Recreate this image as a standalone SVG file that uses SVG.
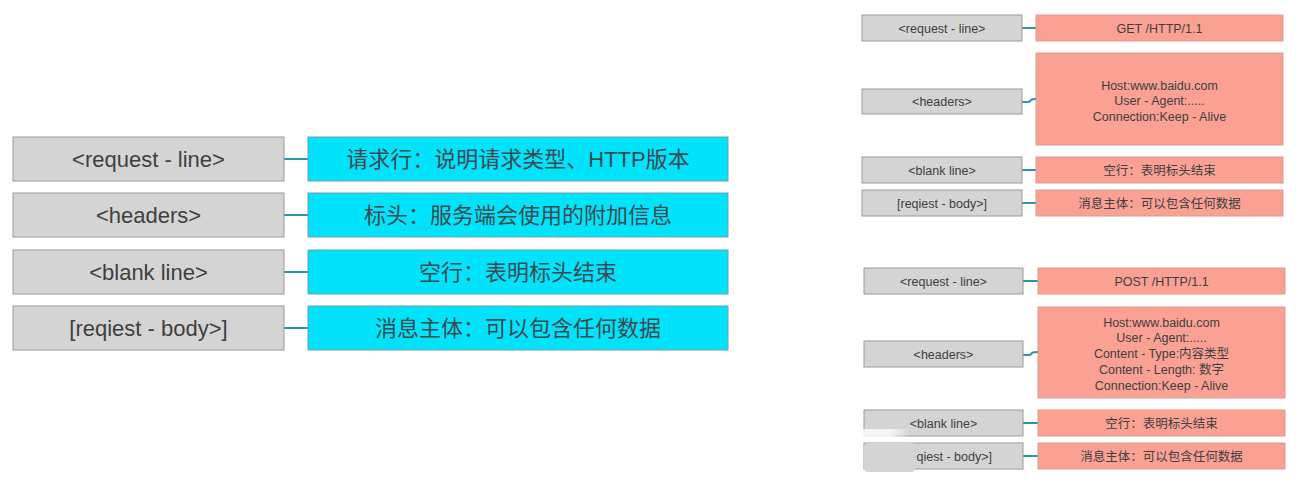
<svg xmlns="http://www.w3.org/2000/svg" width="1303" height="488" viewBox="0 0 1303 488">
<defs>
<style>
.g{fill:#d4d4d4;stroke:#9a9a9a;stroke-width:1}
.c{fill:#00e3fa;stroke:#7a9aa6;stroke-width:1}
.s{fill:#fba193;stroke:#d99a90;stroke-width:1}
.tl{font-family:"Liberation Sans","Noto Sans CJK SC",sans-serif;font-size:22px;fill:#404040;text-anchor:middle}
.tc{font-family:"Liberation Sans","Noto Sans CJK SC",sans-serif;font-size:22px;fill:#3a4a50;text-anchor:middle}
.ts{font-family:"Liberation Sans","Noto Sans CJK SC",sans-serif;font-size:12.5px;fill:#404040;text-anchor:middle}
.ln{fill:none;stroke:#2a93b0;stroke-width:2}
</style>
<linearGradient id="fade" x1="0" y1="0" x2="1" y2="0">
<stop offset="0" stop-color="#fff" stop-opacity="0"/>
<stop offset="0.3" stop-color="#fff" stop-opacity="0.8"/>
<stop offset="0.85" stop-color="#fff" stop-opacity="0.8"/>
<stop offset="1" stop-color="#fff" stop-opacity="0"/>
</linearGradient>
</defs>
<rect width="1303" height="488" fill="#fff"/>
<g id="connectors">
<line class="ln" x1="284" y1="159" x2="308" y2="159"/>
<line class="ln" x1="284" y1="215" x2="308" y2="215"/>
<line class="ln" x1="284" y1="272" x2="308" y2="272"/>
<line class="ln" x1="284" y1="328" x2="308" y2="328"/>
<line class="ln" x1="1022" y1="28" x2="1036" y2="28"/>
<path class="ln" d="M1022 102 H1028 Q1030 102 1031 100 Q1032 99 1036 99"/>
<line class="ln" x1="1022" y1="170" x2="1036" y2="170"/>
<line class="ln" x1="1022" y1="203" x2="1036" y2="203"/>
<line class="ln" x1="1023" y1="281" x2="1038" y2="281"/>
<path class="ln" d="M1023 355 H1029 Q1031 355 1032 353 Q1033 352 1038 352"/>
<line class="ln" x1="1023" y1="423" x2="1038" y2="423"/>
<line class="ln" x1="1023" y1="456" x2="1038" y2="456"/>
</g>
<g id="l-request-line"><rect class="g" x="13" y="137" width="271" height="44"/><text class="tl" x="148.5" y="167">&lt;request - line&gt;</text></g>
<g id="l-headers"><rect class="g" x="13" y="193" width="271" height="44"/><text class="tl" x="148.5" y="223">&lt;headers&gt;</text></g>
<g id="l-blank-line"><rect class="g" x="13" y="250" width="271" height="44"/><text class="tl" x="148.5" y="280">&lt;blank line&gt;</text></g>
<g id="l-body"><rect class="g" x="13" y="306" width="271" height="44"/><text class="tl" x="148.5" y="336">[reqiest - body&gt;]</text></g>
<g id="c-request-line"><rect class="c" x="308" y="137" width="420" height="44"/><text class="tc" x="518" y="167">请求行：说明请求类型、HTTP版本</text></g>
<g id="c-headers"><rect class="c" x="308" y="193" width="420" height="44"/><text class="tc" x="518" y="223">标头：服务端会使用的附加信息</text></g>
<g id="c-blank-line"><rect class="c" x="308" y="250" width="420" height="44"/><text class="tc" x="518" y="280">空行：表明标头结束</text></g>
<g id="c-body"><rect class="c" x="308" y="306" width="420" height="44"/><text class="tc" x="518" y="336">消息主体：可以包含任何数据</text></g>
<g id="get-request-line"><rect class="g" x="862" y="15" width="160" height="26"/><text class="ts" x="942" y="32.5">&lt;request - line&gt;</text></g>
<g id="get-headers"><rect class="g" x="862" y="89" width="160" height="25"/><text class="ts" x="942" y="106">&lt;headers&gt;</text></g>
<g id="get-blank-line"><rect class="g" x="862" y="157" width="160" height="26"/><text class="ts" x="942" y="174.5">&lt;blank line&gt;</text></g>
<g id="get-body"><rect class="g" x="862" y="190" width="160" height="26"/><text class="ts" x="942" y="207.5">[reqiest - body&gt;]</text></g>
<g id="get-request-line-v"><rect class="s" x="1036" y="15" width="247" height="26"/><text class="ts" x="1159.5" y="32.5">GET /HTTP/1.1</text></g>
<g id="get-headers-v"><rect class="s" x="1036" y="53" width="247" height="92"/><text class="ts" x="1159.5" y="89.5">Host:www.baidu.com</text><text class="ts" x="1159.5" y="105">User - Agent:.....</text><text class="ts" x="1159.5" y="120.5">Connection:Keep - Alive</text></g>
<g id="get-blank-line-v"><rect class="s" x="1036" y="157" width="247" height="26"/><text class="ts" x="1159.5" y="174.5">空行：表明标头结束</text></g>
<g id="get-body-v"><rect class="s" x="1036" y="190" width="247" height="26"/><text class="ts" x="1159.5" y="207.5">消息主体：可以包含任何数据</text></g>
<g id="post-request-line"><rect class="g" x="864" y="268" width="159" height="26"/><text class="ts" x="943.5" y="285.5">&lt;request - line&gt;</text></g>
<g id="post-headers"><rect class="g" x="864" y="341" width="159" height="26"/><text class="ts" x="943.5" y="358.5">&lt;headers&gt;</text></g>
<g id="post-blank-line"><rect class="g" x="864" y="410" width="159" height="26"/><text class="ts" x="943.5" y="427.5">&lt;blank line&gt;</text></g>
<g id="post-body"><rect class="g" x="864" y="443" width="159" height="26"/><rect x="864" y="443" width="51" height="29" rx="4" fill="#d4d4d4"/><text class="ts" x="992" y="460.5" style="text-anchor:end">qiest - body&gt;]</text></g>
<g id="post-request-line-v"><rect class="s" x="1038" y="268" width="247" height="26"/><text class="ts" x="1161.5" y="285.5">POST /HTTP/1.1</text></g>
<g id="post-headers-v"><rect class="s" x="1038" y="307" width="247" height="91"/><text class="ts" x="1161.5" y="326.5">Host:www.baidu.com</text><text class="ts" x="1161.5" y="342">User - Agent:.....</text><text class="ts" x="1161.5" y="358">Content - Type:内容类型</text><text class="ts" x="1161.5" y="374">Content - Length: 数字</text><text class="ts" x="1161.5" y="390">Connection:Keep - Alive</text></g>
<g id="post-blank-line-v"><rect class="s" x="1038" y="410" width="247" height="26"/><text class="ts" x="1161.5" y="427.5">空行：表明标头结束</text></g>
<g id="post-body-v"><rect class="s" x="1038" y="443" width="247" height="26"/><text class="ts" x="1161.5" y="460.5">消息主体：可以包含任何数据</text></g>
<rect x="775" y="429" width="135" height="13" rx="6" fill="url(#fade)"/>
</svg>
